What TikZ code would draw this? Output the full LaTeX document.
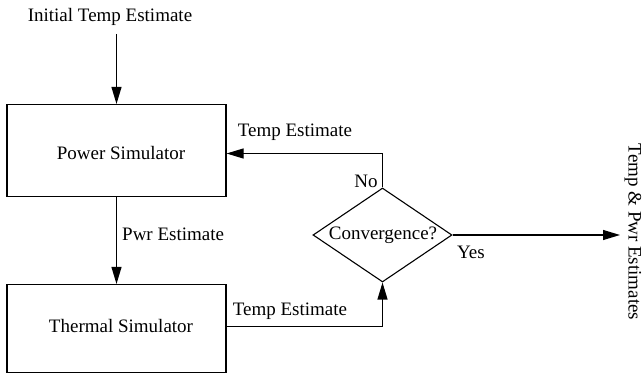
\documentclass[tikz,border=0pt]{standalone}
\usepackage{fontspec}
\setmainfont{Liberation Serif}
\usetikzlibrary{arrows.meta,shapes.geometric}
\begin{document}
\begin{tikzpicture}[x=1pt,y=-1pt,
  every node/.style={font=\fontsize{19}{22}\selectfont, inner sep=0pt},
  box/.style={draw, line width=1.1pt, minimum width=219pt},
  dec/.style={draw, diamond, line width=1.1pt, minimum width=139pt, minimum height=94pt, inner sep=0pt},
  arr/.style={line width=1.1pt, -{Triangle[length=17pt,width=10pt]}},
  ln/.style={line width=1.1pt}]
\useasboundingbox (0,0) rectangle (643,374);
\node (init) at (110,17) {Initial Temp Estimate};
\node[box, minimum height=92pt] (power) at (116.5,150.5) {};
\node at (121,153) {Power Simulator};
\node[box, minimum height=88pt] (thermal) at (116.5,328.5) {};
\node at (121,326) {Thermal Simulator};
\node[dec] (conv) at (382.5,235) {};
\node at (383,235) {Convergence?};
\coordinate (out) at (620,235);
\coordinate (inittop) at (116.5,34);
\draw[arr] (inittop) -- (power.north);
\draw[arr] (power.south) -- (thermal.north);
\draw[arr] ([yshift=2pt]thermal.east) -| (conv.south);
\draw[arr] (conv.north) |- ([yshift=-3pt]power.east);
\draw[arr] (conv.east) -- (out);
\node (t1) at (295,132) {Temp Estimate};
\node (no) at (366,181) {No};
\node[anchor=west] (pwr) at (122,234) {Pwr Estimate};
\node (t2) at (290,311) {Temp Estimate};
\node (yes) at (471,252) {Yes};
\node[rotate=-90] (res) at (633,232) {Temp \& Pwr Estimates};
\end{tikzpicture}
\end{document}
